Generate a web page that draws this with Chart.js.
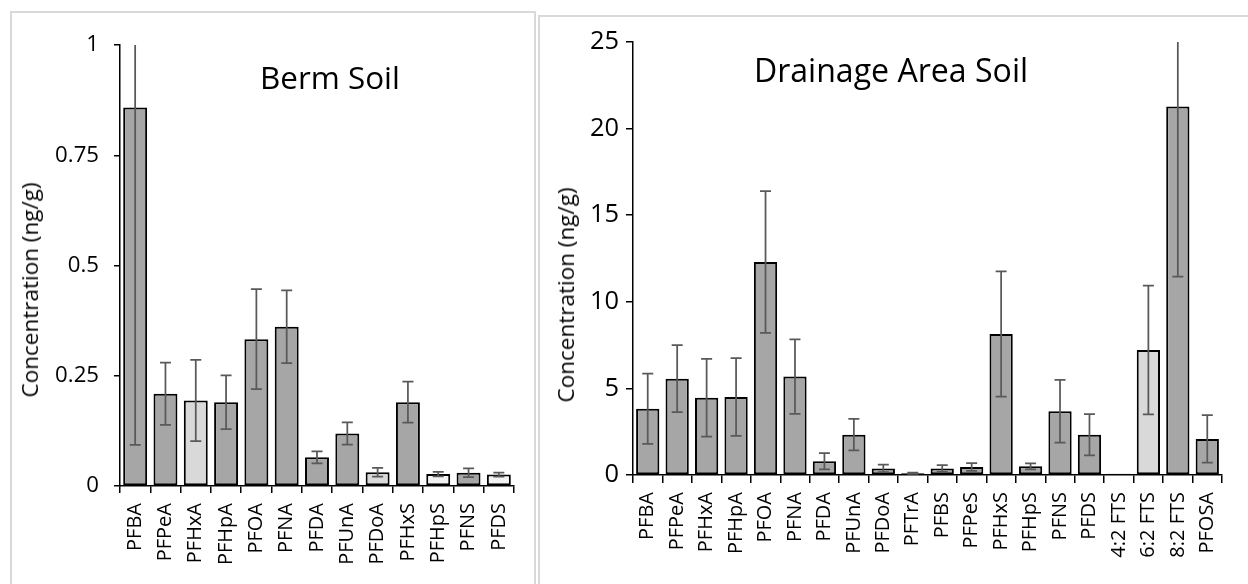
<!DOCTYPE html>
<html><head><meta charset="utf-8">
<script src="https://cdn.jsdelivr.net/npm/chart.js@4.4.1/dist/chart.umd.min.js"></script>
<style>
html,body{margin:0;padding:0;background:#fff;}
body{width:1248px;height:584px;overflow:hidden;position:relative;font-family:"Open Sans",sans-serif;}
.panel{position:absolute;border:2px solid #d9d9d9;background:#fff;}
#p1{left:10px;top:11px;width:522px;height:600px;}
#p2{left:538px;top:15px;width:720px;height:600px;}
.panel canvas{display:block;}
.title{position:absolute;text-align:center;font-size:31.5px;line-height:32px;color:#000;white-space:nowrap;}
.ytitle{position:absolute;font-size:22px;line-height:22px;color:#000;white-space:nowrap;transform:translate(-50%,-50%) rotate(-90deg);}
</style></head>
<body>
<div class="panel" id="p1"><canvas id="c1" width="522" height="600" style="width:522px;height:600px"></canvas></div>
<div class="panel" id="p2"><canvas id="c2" width="720" height="600" style="width:720px;height:600px"></canvas></div>
<div class="title" id="t1" style="left:30px;top:61px;width:600px">Berm Soil</div>
<div class="title" id="t2" style="left:591px;top:53.5px;width:600px">Drainage Area Soil</div>
<div class="ytitle" id="y1" style="left:30px;top:290px">Concentration (ng/g)</div>
<div class="ytitle" id="y2" style="left:566px;top:295px">Concentration (ng/g)</div>
<script>
// ---------- DATA ----------
const bermLabels = ['PFBA','PFPeA','PFHxA','PFHpA','PFOA','PFNA','PFDA','PFUnA','PFDoA','PFHxS','PFHpS','PFNS','PFDS'];
const bermValues = [0.858, 0.209, 0.194, 0.190, 0.333, 0.361, 0.065, 0.119, 0.031, 0.190, 0.027, 0.030, 0.026];
const bermSD     = [0.765, 0.0705, 0.092, 0.061, 0.1135, 0.0825, 0.0135, 0.025, 0.010, 0.0465, 0.005, 0.010, 0.0045];
const bermShade  = ['dark','dark','light','dark','dark','dark','dark','dark','light','dark','white','dark','white'];
const bermYTicks = ['0','0.25','0.5','0.75','1'];

const drainLabels = ['PFBA','PFPeA','PFHxA','PFHpA','PFOA','PFNA','PFDA','PFUnA','PFDoA','PFTrA','PFBS','PFPeS','PFHxS','PFHpS','PFNS','PFDS','4:2 FTS','6:2 FTS','8:2 FTS','PFOSA'];
const drainValues = [3.83, 5.56, 4.46, 4.50, 12.30, 5.68, 0.79, 2.33, 0.38, 0.10, 0.38, 0.46, 8.14, 0.50, 3.68, 2.33, 0.07, 7.22, 21.27, 2.08];
const drainSD     = [2.03, 1.935, 2.245, 2.245, 4.09, 2.145, 0.47, 0.905, 0.215, 0.03, 0.195, 0.22, 3.62, 0.17, 1.815, 1.19, 0, 3.715, 9.82, 1.37];
const drainShade  = ['dark','dark','dark','dark','dark','dark','dark','dark','dark','dark','dark','dark','dark','dark','dark','dark','dark','light','dark','dark'];
const drainYTicks = ['0','5','10','15','20','25'];

// ---------- STYLE ----------
const FAMILY = '"Open Sans"';
const shadeColors = {dark:'#a6a6a6', light:'#d9d9d9', white:'#f2f2f2'};
const mctx = document.createElement('canvas').getContext('2d');
function fitSize(text, targetWidth) {
  mctx.font = '100px ' + FAMILY;
  return Math.round(100 * targetWidth / mctx.measureText(text).width * 10) / 10;
}

const errorBarPlugin = {
  id: 'errorBars',
  afterDatasetsDraw(chart) {
    const ds = chart.data.datasets[0];
    const meta = chart.getDatasetMeta(0);
    const ys = chart.scales.y;
    const a = chart.chartArea;
    const ctx = chart.ctx;
    ctx.save();
    ctx.beginPath();
    ctx.rect(a.left, a.top, a.right - a.left, a.bottom - a.top);
    ctx.clip();
    ctx.strokeStyle = '#595959';
    ctx.lineWidth = 1.75;
    meta.data.forEach((bar, i) => {
      const v = ds.data[i], e = ds.errorBars[i];
      if (!e) return;
      const x = bar.x;
      const yT = ys.getPixelForValue(v + e);
      const yB = ys.getPixelForValue(Math.max(0, v - e));
      const hw = 5.5;
      ctx.beginPath();
      ctx.moveTo(x, yT); ctx.lineTo(x, yB);
      ctx.moveTo(x - hw, yT); ctx.lineTo(x + hw, yT);
      ctx.moveTo(x - hw, yB); ctx.lineTo(x + hw, yB);
      ctx.stroke();
    });
    ctx.restore();
  }
};

function makeChart(id, labels, values, sd, shades, yMax, yStep, yTicks, g) {
  return new Chart(document.getElementById(id), {
    type: 'bar',
    data: {
      labels: labels,
      datasets: [{
        data: values,
        errorBars: sd,
        backgroundColor: shades.map(s => shadeColors[s]),
        borderColor: '#000',
        borderWidth: 2,
        borderSkipped: false,
        barPercentage: 0.79,
        categoryPercentage: 1.0
      }]
    },
    options: {
      responsive: false,
      animation: false,
      devicePixelRatio: 1,
      layout: {padding: {top: g.top, right: g.right, left: 0, bottom: 0}},
      plugins: {legend: {display: false}, tooltip: {enabled: false}, title: {display: false}},
      scales: {
        x: {
          grid: {display: true, drawOnChartArea: false, drawTicks: true, tickLength: g.xTickLen, color: '#000', lineWidth: 1.5, offset: true},
          border: {display: true, color: '#000', width: 1.5},
          ticks: {autoSkip: false, maxRotation: 90, minRotation: 90, padding: g.xTickPad, color: '#000',
                  font: {family: FAMILY, size: g.xFont}},
          afterFit: s => { s.height = g.xHeight; }
        },
        y: {
          min: 0, max: yMax,
          grid: {display: true, drawOnChartArea: false, drawTicks: true, tickLength: g.yTickLen, color: '#000', lineWidth: 1.5},
          border: {display: true, color: '#000', width: 1.5},
          ticks: {stepSize: yStep, padding: g.yTickPad, color: '#000',
                  font: {family: FAMILY, size: g.yFont},
                  callback: (v, i) => yTicks[i]},
          afterFit: s => { s.width = g.yWidth; }
        }
      }
    },
    plugins: [errorBarPlugin]
  });
}

function draw() {
  const xFont = fitSize('PFBA', 48);
  const yFont1 = fitSize('0.75', 44);
  const yFont2 = fitSize('25', 29);
  const yTitleFont = fitSize('Concentration (ng/g)', 215);
  const tFont1 = fitSize('Berm Soil', 140);
  const tFont2 = fitSize('Drainage Area Soil', 274);
  document.getElementById('y1').style.fontSize = yTitleFont + 'px';
  document.getElementById('y2').style.fontSize = yTitleFont + 'px';
  document.getElementById('t1').style.fontSize = tFont1 + 'px';
  document.getElementById('t2').style.fontSize = tFont2 + 'px';
  makeChart('c1', bermLabels, bermValues, bermSD, bermShade, 1, 0.25, bermYTicks,
    {top: 32, right: 20, yWidth: 108, xHeight: 127, yTickLen: 6, yTickPad: 15, xTickLen: 7, xTickPad: 10, xFont: xFont, yFont: yFont1});
  makeChart('c2', drainLabels, drainValues, drainSD, drainShade, 25, 5, drainYTicks,
    {top: 25, right: 38, yWidth: 93, xHeight: 142, yTickLen: 7, yTickPad: 7, xTickLen: 8, xTickPad: 9, xFont: xFont, yFont: yFont2});
}

if (document.fonts && document.fonts.load) {
  Promise.all([document.fonts.load('22px "Open Sans"'), document.fonts.load('20px "Open Sans"')])
    .then(draw, draw);
} else { draw(); }
</script>
</body></html>
